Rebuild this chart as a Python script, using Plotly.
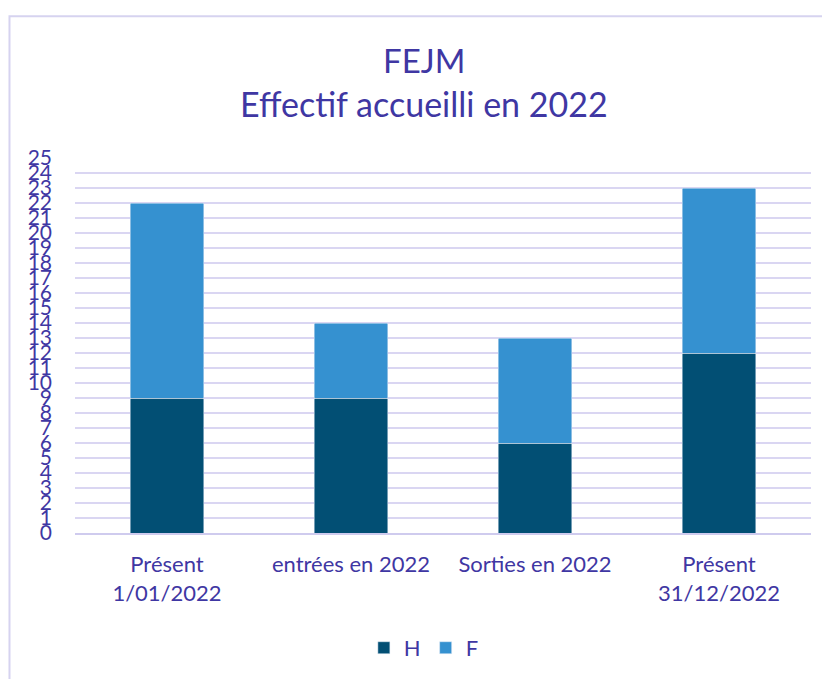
import plotly.graph_objects as go

# Effectif par catégorie (H / F)
categories = ["Présent<br>1/01/2022", "entrées en 2022", "Sorties en 2022", "Présent<br>31/12/2022"]
hommes = [9, 9, 6, 12]
femmes = [13, 5, 7, 11]
y_ticks = list(range(0, 26))

text_color = "#3F37A3"
grid_color = "#DAD6F2"

fig = go.Figure()
fig.add_trace(go.Bar(x=categories, y=hommes, name="H", marker_color="#024F74"))
fig.add_trace(go.Bar(x=categories, y=femmes, name="F", marker_color="#3591D0"))

# titre sur deux lignes
fig.add_annotation(text="FEJM", x=0.474, y=1.261, xref="paper", yref="paper",
                   showarrow=False, font=dict(size=33, color=text_color), yanchor="middle")
fig.add_annotation(text="Effectif accueilli en 2022", x=0.474, y=1.146, xref="paper", yref="paper",
                   showarrow=False, font=dict(size=34, color=text_color), yanchor="middle")

# cadre du graphique
fig.add_shape(type="rect", xref="paper", yref="paper", x0=-0.089, x1=1.2, y0=-0.6, y1=1.378,
              line=dict(color="#D6D3F0", width=2), layer="below")

fig.update_layout(
    barmode="stack",
    bargap=0.6,
    width=822, height=671,
    margin=dict(l=67, r=19, t=150, b=145),
    paper_bgcolor="white",
    plot_bgcolor="white",
    font=dict(family="Lato", color=text_color, size=22),
    showlegend=True,
    legend=dict(orientation="h", x=0.474, xanchor="center", y=-0.303, yanchor="middle",
                traceorder="normal", font=dict(size=22, color=text_color), tracegroupgap=0),
    xaxis=dict(showgrid=False, showline=True, linecolor="#CFCBEE", linewidth=2, automargin=False,
               tickfont=dict(size=22, color=text_color), ticks="", ticklabelstandoff=11),
    yaxis=dict(range=[0, 25], tickvals=y_ticks, showgrid=True, gridcolor=grid_color, gridwidth=1.5,
               zeroline=False, tickfont=dict(size=21, color=text_color), ticklabelstandoff=22,
               showline=False, automargin=False),
)

fig.write_html("out.html")
